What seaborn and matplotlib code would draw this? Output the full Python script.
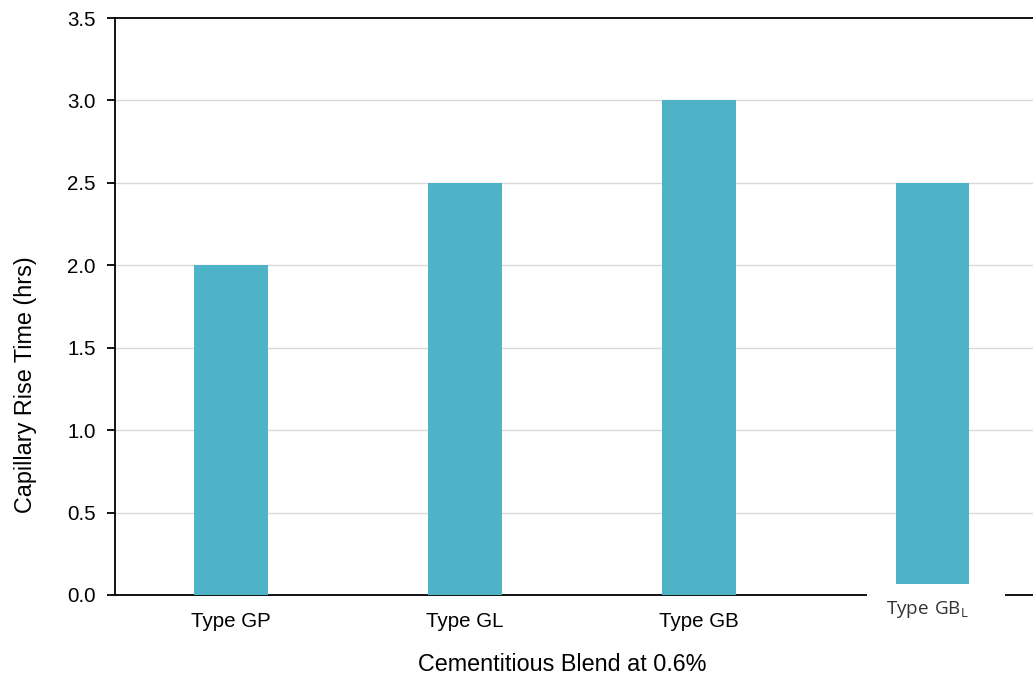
import matplotlib
matplotlib.use("Agg")
import matplotlib.pyplot as plt
from matplotlib.patches import Rectangle
import seaborn as sns
import pandas as pd

# Capillary rise time for each cementitious blend type
blends = ["Type GP", "Type GL", "Type GB", "Type GBL"]
rise_time_hrs = [2.0, 2.5, 3.0, 2.5]
y_ticks = [0.0, 0.5, 1.0, 1.5, 2.0, 2.5, 3.0, 3.5]

df = pd.DataFrame({"blend": blends, "hours": rise_time_hrs})

sns.set_theme(style="white")
plt.rcParams["font.family"] = ["Liberation Sans", "DejaVu Sans"]

fig = plt.figure(figsize=(10.33, 6.8), dpi=100)
ax = fig.add_axes([115 / 1033, 1 - 595 / 680, (1033 - 115) / 1033, (595 - 18) / 680])

sns.barplot(data=df, x="blend", y="hours", color="#4fb3c8", saturation=1,
            width=0.315, linewidth=0, ax=ax, zorder=3)

ax.set_xlim(-0.497, 3.43)
ax.set_ylim(0, 3.5)
ax.set_yticks(y_ticks)
ax.set_yticklabels([f"{v:.1f}" for v in y_ticks], fontsize=14.8, color="black")
ax.set_xticks(range(len(blends)))
ax.set_xticklabels(blends[:3] + [""], fontsize=14.8, color="black")

ax.tick_params(axis="y", length=6, width=1.3, color="black", pad=8, left=True)
ax.tick_params(axis="x", length=0, pad=12)

for v in y_ticks[1:-1]:
    ax.axhline(v, color="#d9d9d9", lw=1.0, zorder=1)

for side in ["left", "bottom", "top"]:
    ax.spines[side].set_visible(True)
    ax.spines[side].set_color("black")
    ax.spines[side].set_linewidth(1.3)
ax.spines["right"].set_visible(False)

ax.set_xlabel("Cementitious Blend at 0.6%", fontsize=16.8, color="black",
              ha="center", va="center")
ax.set_ylabel("Capillary Rise Time (hrs)", fontsize=16.8, color="black",
              ha="center", va="center")
ax.xaxis.set_label_coords(0.4875, -0.1196)
ax.yaxis.set_label_coords(-0.097, 0.364)

# Label for the last blend sits in its own white box
box = Rectangle((867 / 1033, 1 - 630 / 680), 138 / 1033, 46 / 680,
                transform=fig.transFigure, facecolor="white", edgecolor="none",
                clip_on=False, zorder=10)
ax.add_patch(box)
ax.text(927 / 1033, 1 - 609 / 680, r"$\mathregular{Type\ GB_L}$",
        transform=fig.transFigure, ha="center", va="center", fontsize=13.6,
        color="#333333", family=["Open Sans", "DejaVu Sans"], zorder=11)

fig.savefig("out.png", dpi=100)
